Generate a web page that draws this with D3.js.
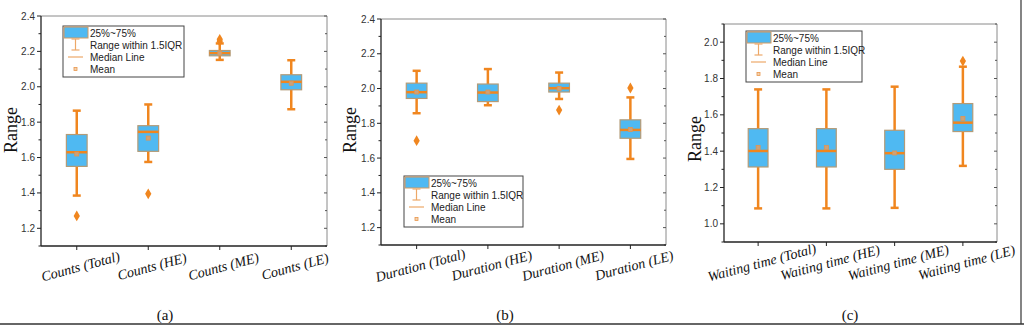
<!DOCTYPE html>
<html>
<head>
<meta charset="utf-8">
<script src="https://cdn.jsdelivr.net/npm/d3@7"></script>
<style>
  body { margin: 0; background: #fff; }
  svg { display: block; }
  .tick-label { font-family: "Liberation Sans", Arial, sans-serif; font-size: 10px; fill: #333; }
  .cat-label { font-family: "Liberation Serif", "DejaVu Serif", serif; font-style: italic; font-size: 14px; fill: #111; }
  .y-title { font-family: "Liberation Serif", "DejaVu Serif", serif; font-size: 18px; fill: #111; }
  .panel-tag { font-family: "Liberation Serif", "DejaVu Serif", serif; font-size: 15px; fill: #111; }
  .legend-text { font-family: "Liberation Sans", Arial, sans-serif; font-size: 10px; fill: #222; }
</style>
</head>
<body>
<svg id="fig" width="1024" height="326"></svg>
<script>
// box stats per category: [low whisker, q1, median, q3, high whisker, mean]
const countsCats = ['Counts (Total)', 'Counts (HE)', 'Counts (ME)', 'Counts (LE)'];
const countsBoxes = [
  [1.385, 1.55, 1.63, 1.73, 1.865, 1.62],
  [1.575, 1.635, 1.745, 1.78, 1.90, 1.71],
  [2.152, 2.175, 2.19, 2.205, 2.245, 2.19],
  [1.873, 1.983, 2.028, 2.068, 2.15, 2.02]
];
const countsOutliers = [[1.27], [1.395], [2.257, 2.268], []];

const durationCats = ['Duration (Total)', 'Duration (HE)', 'Duration (ME)', 'Duration (LE)'];
const durationBoxes = [
  [1.858, 1.943, 1.979, 2.031, 2.102, 1.98],
  [1.904, 1.925, 1.977, 2.026, 2.112, 1.98],
  [1.94, 1.98, 2.002, 2.031, 2.092, 2.00],
  [1.595, 1.714, 1.762, 1.82, 1.949, 1.765]
];
const durationOutliers = [[1.70], [], [1.876], [2.003]];

const waitingCats = ['Waiting time (Total)', 'Waiting time (HE)', 'Waiting time (ME)', 'Waiting time (LE)'];
const waitingBoxes = [
  [1.085, 1.313, 1.401, 1.524, 1.74, 1.42],
  [1.085, 1.313, 1.401, 1.524, 1.74, 1.42],
  [1.088, 1.30, 1.389, 1.515, 1.755, 1.39],
  [1.319, 1.508, 1.557, 1.662, 1.865, 1.58]
];
const waitingOutliers = [[], [], [], [1.896]];

const legendLabels = ['25%~75%', 'Range within 1.5IQR', 'Median Line', 'Mean'];

const BLUE = '#4fb9f2';
const ORANGE = '#f0861f';
const BOX_EDGE = '#b39b78';

const svg = d3.select('#fig');

function drawPanel(opt) {
  const g = svg.append('g');
  const x = d3.scaleBand().domain(opt.cats).range([opt.left, opt.right]);
  const y = d3.scaleLinear().domain(opt.domain).range([opt.bottom, opt.top]);
  const bw = x.step() * 0.29;
  const cx = c => x(c) + x.bandwidth() / 2;

  const majors = d3.range(opt.domain[0] + 0.1, opt.domain[1] + 0.001, 0.2).map(v => +v.toFixed(1));
  const minors = d3.range(opt.domain[0], opt.domain[1] + 0.001, 0.1).map(v => +v.toFixed(1));

  // frame: top and right in grey
  g.append('line').attr('x1', opt.left).attr('x2', opt.right).attr('y1', opt.top).attr('y2', opt.top)
    .attr('stroke', '#8a8a8a').attr('stroke-width', 1);
  g.append('line').attr('x1', opt.right).attr('x2', opt.right).attr('y1', opt.top).attr('y2', opt.bottom)
    .attr('stroke', '#8a8a8a').attr('stroke-width', 1);
  g.selectAll('.rtick').data(minors).enter().append('line')
    .attr('x1', opt.right).attr('x2', d => opt.right - (majors.includes(d) ? 3 : 2))
    .attr('y1', d => y(d)).attr('y2', d => y(d))
    .attr('stroke', '#555').attr('stroke-width', 1);

  // left axis
  const yAxis = g.append('g').attr('transform', `translate(${opt.left},0)`);
  yAxis.append('line').attr('y1', opt.top).attr('y2', opt.bottom).attr('stroke', '#222').attr('stroke-width', 1.3);
  yAxis.selectAll('.minor').data(minors).enter().append('line')
    .attr('x1', 0).attr('x2', d => majors.includes(d) ? -4 : -2.5)
    .attr('y1', d => y(d)).attr('y2', d => y(d))
    .attr('stroke', '#222').attr('stroke-width', 1);
  yAxis.selectAll('text').data(majors).enter().append('text')
    .attr('class', 'tick-label')
    .attr('x', -6).attr('y', d => y(d) + 3.5)
    .attr('text-anchor', 'end')
    .text(d3.format('.1f'));

  // bottom axis
  const xAxis = g.append('g').attr('transform', `translate(0,${opt.bottom})`);
  xAxis.append('line').attr('x1', opt.left).attr('x2', opt.right).attr('stroke', '#222').attr('stroke-width', 1.3);
  xAxis.selectAll('.xt').data(opt.cats).enter().append('line')
    .attr('x1', d => cx(d)).attr('x2', d => cx(d)).attr('y1', 0).attr('y2', 4)
    .attr('stroke', '#222').attr('stroke-width', 1);
  xAxis.selectAll('text').data(opt.cats).enter().append('text')
    .attr('class', 'cat-label')
    .attr('text-anchor', 'middle')
    .attr('transform', d => `translate(${cx(d) + 5},${25}) rotate(-15)`)
    .text(d => d);

  // y title and panel tag
  g.append('text').attr('class', 'y-title')
    .attr('text-anchor', 'middle')
    .attr('transform', `translate(${opt.titleX},${opt.titleY}) rotate(-90)`)
    .text('Range');
  g.append('text').attr('class', 'panel-tag')
    .attr('x', opt.tagX).attr('y', 320).attr('text-anchor', 'middle')
    .text(opt.tag);

  // boxes
  const items = opt.cats.map((c, i) => ({ c, s: opt.boxes[i], out: opt.outliers[i] }));
  const box = g.selectAll('.box').data(items).enter().append('g');

  box.append('line')
    .attr('x1', d => cx(d.c)).attr('x2', d => cx(d.c))
    .attr('y1', d => y(d.s[0])).attr('y2', d => y(d.s[4]))
    .attr('stroke', ORANGE).attr('stroke-width', 2.5);
  [0, 4].forEach(k => {
    box.append('line')
      .attr('x1', d => cx(d.c) - 4).attr('x2', d => cx(d.c) + 4)
      .attr('y1', d => y(d.s[k])).attr('y2', d => y(d.s[k]))
      .attr('stroke', ORANGE).attr('stroke-width', 2.5);
  });
  box.append('rect')
    .attr('x', d => cx(d.c) - bw / 2).attr('width', bw)
    .attr('y', d => y(d.s[3])).attr('height', d => y(d.s[1]) - y(d.s[3]))
    .attr('fill', BLUE).attr('stroke', BOX_EDGE).attr('stroke-width', 1.2);
  box.append('line')
    .attr('x1', d => cx(d.c) - bw / 2).attr('x2', d => cx(d.c) + bw / 2)
    .attr('y1', d => y(d.s[2])).attr('y2', d => y(d.s[2]))
    .attr('stroke', ORANGE).attr('stroke-width', 2.5);
  box.append('rect')
    .attr('x', d => cx(d.c) - 2).attr('y', d => y(d.s[5]) - 2)
    .attr('width', 4).attr('height', 4)
    .attr('fill', '#c9a27c').attr('stroke', '#e39550').attr('stroke-width', 0.8);
  box.each(function (d) {
    d3.select(this).selectAll('.out').data(d.out).enter().append('path')
      .attr('d', d3.symbol(d3.symbolDiamond, 34))
      .attr('transform', v => `translate(${cx(d.c)},${y(v)})`)
      .attr('fill', ORANGE);
  });

  // legend
  const lg = g.append('g').attr('transform', `translate(${opt.legX},${opt.legY})`);
  lg.append('rect').attr('width', opt.legW).attr('height', 51)
    .attr('fill', '#fff').attr('stroke', '#444').attr('stroke-width', 1);
  lg.append('rect').attr('x', 1).attr('y', 1).attr('width', 24).attr('height', 11)
    .attr('fill', BLUE).attr('stroke', '#d39a60').attr('stroke-width', 1);
  const wx = 12.5;
  lg.append('line').attr('x1', wx).attr('x2', wx).attr('y1', 13).attr('y2', 24)
    .attr('stroke', '#eda868').attr('stroke-width', 1.2);
  [13, 24].forEach(yy => lg.append('line').attr('x1', wx - 4).attr('x2', wx + 4).attr('y1', yy).attr('y2', yy)
    .attr('stroke', '#eda868').attr('stroke-width', 1.2));
  lg.append('line').attr('x1', 5).attr('x2', 20).attr('y1', 31).attr('y2', 31)
    .attr('stroke', '#eda868').attr('stroke-width', 1.2);
  lg.append('rect').attr('x', wx - 1.5).attr('y', 41.5).attr('width', 3).attr('height', 3)
    .attr('fill', '#f3d2b0').attr('stroke', '#e8964c').attr('stroke-width', 0.8);
  lg.selectAll('.lt').data(legendLabels).enter().append('text')
    .attr('class', 'legend-text')
    .attr('x', 27).attr('y', (d, i) => 10.5 + i * 12)
    .text(d => d);
}

drawPanel({
  cats: countsCats, boxes: countsBoxes, outliers: countsOutliers,
  left: 41, right: 327, top: 16, bottom: 246, domain: [1.1, 2.4],
  titleX: 17, titleY: 130, tag: '(a)', tagX: 165,
  legX: 63, legY: 26, legW: 121
});
drawPanel({
  cats: durationCats, boxes: durationBoxes, outliers: durationOutliers,
  left: 381, right: 666, top: 19, bottom: 245, domain: [1.1, 2.4],
  titleX: 356, titleY: 130, tag: '(b)', tagX: 505,
  legX: 404, legY: 176, legW: 119
});
drawPanel({
  cats: waitingCats, boxes: waitingBoxes, outliers: waitingOutliers,
  left: 724, right: 997, top: 24, bottom: 242, domain: [0.9, 2.1],
  titleX: 701, titleY: 139, tag: '(c)', tagX: 850,
  legX: 746, legY: 31, legW: 116
});

// figure border lines
svg.append('line').attr('x1', 0).attr('x2', 1024).attr('y1', 324).attr('y2', 324)
  .attr('stroke', '#333').attr('stroke-width', 1.5);
svg.append('line').attr('x1', 1021).attr('x2', 1021).attr('y1', 0).attr('y2', 324)
  .attr('stroke', '#333').attr('stroke-width', 1.2);
</script>
</body>
</html>
